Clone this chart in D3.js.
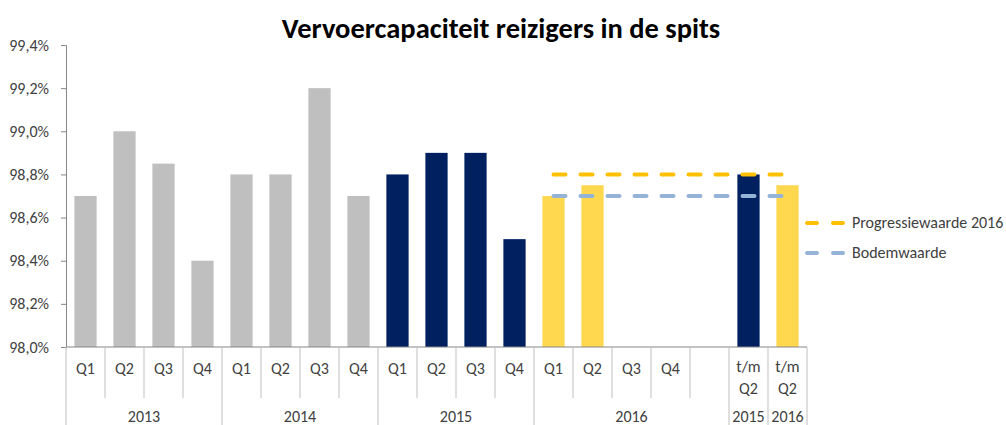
<!DOCTYPE html>
<html>
<head>
<meta charset="utf-8">
<script src="https://cdn.jsdelivr.net/npm/d3@7/dist/d3.min.js"></script>
<style>
  body { margin: 0; background: #fff; }
  text { font-family: Carlito, Lato, "Open Sans", sans-serif; fill: #404040; }
</style>
</head>
<body>
<div id="chart"></div>
<script>
// categories: quarter label, year group, colour group
const quarters = ["Q1","Q2","Q3","Q4","Q1","Q2","Q3","Q4","Q1","Q2","Q3","Q4","Q1","Q2","Q3","Q4","","t/m Q2","t/m Q2"];
const years = ["2013","2013","2013","2013","2014","2014","2014","2014","2015","2015","2015","2015","2016","2016","2016","2016","2016","2015 ","2016 "];
const groups = ["old","old","old","old","old","old","old","old","cur","cur","cur","cur","new","new","new","new","new","cur","new"];
const values = [98.7, 99.0, 98.85, 98.4, 98.8, 98.8, 99.2, 98.7, 98.8, 98.9, 98.9, 98.5, 98.7, 98.75, null, null, null, 98.8, 98.75];
const progressie = [98.8, 98.8, 98.8, 98.8, 98.8, 98.8, 98.8];
const bodem = [98.7, 98.7, 98.7, 98.7, 98.7, 98.7, 98.7];
const targetIdx = [12, 13, 14, 15, 16, 17, 18];
const yTicks = [98.0, 98.2, 98.4, 98.6, 98.8, 99.0, 99.2, 99.4];

const colors = { old: "#BFBFBF", cur: "#002060", new: "#FFD84F" };

const width = 1006, height = 425;
const margin = { top: 45, left: 66, right: 199, bottom: 78 };
const fs = "16px";

const svg = d3.select("#chart").append("svg")
    .attr("width", width)
    .attr("height", height);

const x = d3.scaleBand()
    .domain(d3.range(quarters.length))
    .range([margin.left, width - margin.right])
    .paddingInner(0.43)
    .paddingOuter(0.215);

const y = d3.scaleLinear()
    .domain([98.0, 99.4])
    .range([height - margin.bottom, margin.top]);

const step = x.step();
const x0 = margin.left;
const slotLeft = i => x0 + i * step;

// title
svg.append("text")
    .attr("x", 501)
    .attr("y", 38)
    .attr("text-anchor", "middle")
    .style("font-size", "28.5px")
    .style("font-weight", "bold")
    .style("fill", "#000")
    .text("Vervoercapaciteit reizigers in de spits");

// y axis
const yAxis = svg.append("g")
    .attr("transform", `translate(${margin.left},0)`)
    .call(d3.axisLeft(y).tickValues(yTicks).tickSize(5).tickPadding(12)
        .tickFormat(d => d.toFixed(1).replace(".", ",") + "%"));
yAxis.select(".domain").attr("stroke", "#868686");
yAxis.selectAll(".tick line").attr("stroke", "#868686");
yAxis.selectAll("text").style("font-size", fs).style("fill", "#404040");

// bars
svg.selectAll(".bar")
    .data(values.map((v, i) => ({ v, i })).filter(d => d.v !== null))
    .enter()
    .append("rect")
    .attr("class", "bar")
    .attr("x", d => x(d.i))
    .attr("width", x.bandwidth())
    .attr("y", d => y(d.v))
    .attr("height", d => y(98.0) - y(d.v))
    .attr("fill", d => colors[groups[d.i]]);

// x axis line
const base = y(98.0);
svg.append("line")
    .attr("x1", x0).attr("x2", slotLeft(quarters.length))
    .attr("y1", base).attr("y2", base)
    .attr("stroke", "#868686");

// category separators
const yearStarts = [];
years.forEach((yr, i) => { if (i === 0 || yr !== years[i - 1]) yearStarts.push(i); });
for (let i = 0; i <= quarters.length; i++) {
    const full = i === quarters.length || yearStarts.includes(i);
    svg.append("line")
        .attr("x1", slotLeft(i)).attr("x2", slotLeft(i))
        .attr("y1", base).attr("y2", full ? height : base + 51)
        .attr("stroke", "#BFBFBF");
}

// quarter labels
quarters.forEach((q, i) => {
    const cx = slotLeft(i) + step / 2;
    const parts = q.split(" ");
    const t = svg.append("text")
        .attr("x", cx)
        .attr("text-anchor", "middle")
        .style("font-size", fs);
    if (parts.length === 1) {
        t.attr("y", base + 27).text(q);
    } else {
        t.attr("y", base + 25).text(parts[0]);
        svg.append("text").attr("x", cx).attr("y", base + 47)
            .attr("text-anchor", "middle").style("font-size", fs).text(parts[1]);
    }
});

// year labels
yearStarts.forEach((s, k) => {
    const e = k + 1 < yearStarts.length ? yearStarts[k + 1] : quarters.length;
    svg.append("text")
        .attr("x", (slotLeft(s) + slotLeft(e)) / 2)
        .attr("y", base + 75)
        .attr("text-anchor", "middle")
        .style("font-size", fs)
        .text(years[s].trim());
});

// target lines
const line = d3.line()
    .x((d, k) => x(targetIdx[k]) + x.bandwidth() / 2)
    .y(d => y(d));

svg.append("path")
    .datum(bodem)
    .attr("d", line)
    .attr("fill", "none")
    .attr("stroke", "#95B3D7")
    .attr("stroke-width", 4)
    .attr("stroke-linecap", "round")
    .attr("stroke-dasharray", "12 15");

svg.append("path")
    .datum(progressie)
    .attr("d", line)
    .attr("fill", "none")
    .attr("stroke", "#FFC000")
    .attr("stroke-width", 4)
    .attr("stroke-linecap", "round")
    .attr("stroke-dasharray", "12 15");

// legend
const legend = [
    { label: "Progressiewaarde 2016", color: "#FFC000", y: 223 },
    { label: "Bodemwaarde", color: "#95B3D7", y: 253 }
];
legend.forEach(d => {
    svg.append("line")
        .attr("x1", 807).attr("x2", 848)
        .attr("y1", d.y).attr("y2", d.y)
        .attr("stroke", d.color)
        .attr("stroke-width", 4)
        .attr("stroke-linecap", "round")
        .attr("stroke-dasharray", "10 16");
    svg.append("text")
        .attr("x", 852)
        .attr("y", d.y + 5)
        .style("font-size", fs)
        .text(d.label);
});
</script>
</body>
</html>
